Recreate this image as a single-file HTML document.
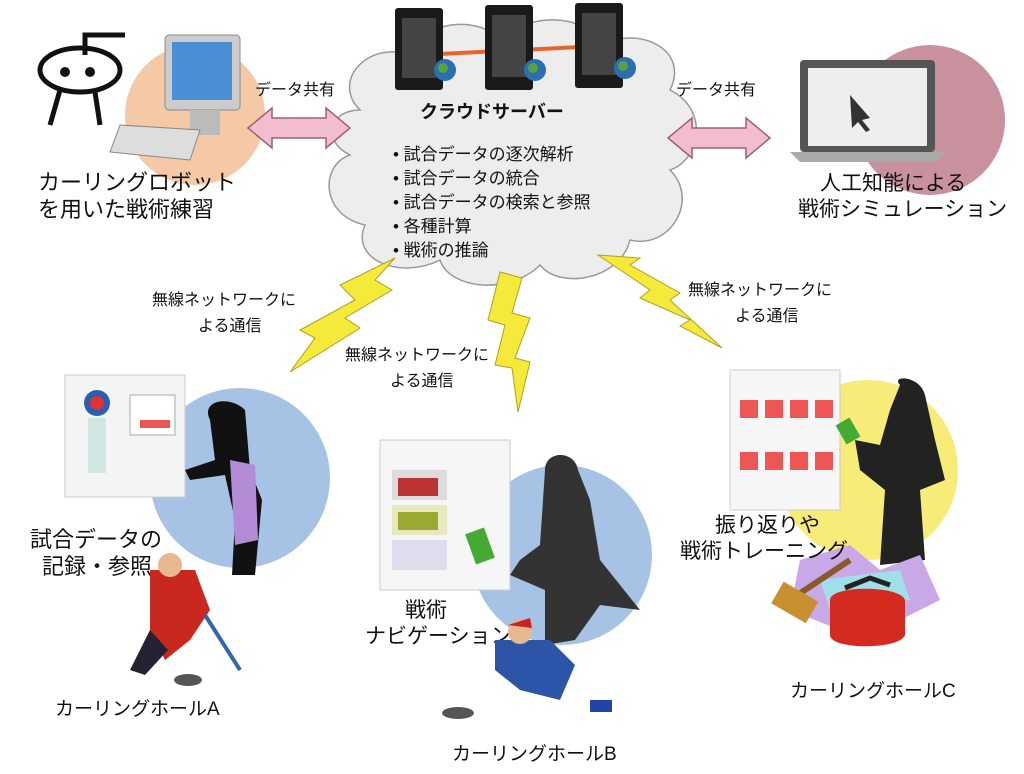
<!DOCTYPE html>
<html><head><meta charset="utf-8">
<style>
html,body{margin:0;padding:0;background:#fff;}
svg{display:block;}
text{font-family:"Liberation Sans","Noto Sans CJK JP",sans-serif;fill:#111;}
</style></head>
<body>
<svg width="1024" height="774" viewBox="0 0 1024 774" xmlns="http://www.w3.org/2000/svg">
<rect width="1024" height="774" fill="#fff"/>

<g fill="#ededed" stroke="#999" stroke-width="1.5">
<path d="M360,110 C330,80 370,40 410,55 C420,20 480,15 500,40 C530,10 590,15 600,45 C640,25 690,50 670,90 C710,110 700,160 670,170 C700,200 670,250 630,240 C620,280 560,290 540,265 C510,295 450,290 440,260 C400,280 350,260 365,225 C320,215 320,165 350,155 C320,140 330,110 360,110 Z"/>
</g>
<line x1="420" y1="55" x2="620" y2="45" stroke="#e8642a" stroke-width="4"/>
<g fill="#1a1a1a">
<rect x="395" y="8" width="48" height="82" rx="3"/>
<rect x="485" y="5" width="48" height="85" rx="3"/>
<rect x="575" y="3" width="48" height="85" rx="3"/>
</g>
<g fill="#444">
<rect x="402" y="18" width="34" height="60"/>
<rect x="492" y="15" width="34" height="62"/>
<rect x="582" y="13" width="34" height="62"/>
</g>
<circle cx="445" cy="70" r="11" fill="#2a6fb0"/><circle cx="535" cy="70" r="11" fill="#2a6fb0"/><circle cx="625" cy="68" r="11" fill="#2a6fb0"/>
<circle cx="443" cy="68" r="5" fill="#5aa040"/><circle cx="533" cy="68" r="5" fill="#5aa040"/><circle cx="623" cy="66" r="5" fill="#5aa040"/>

<text x="420" y="118" font-size="18" font-weight="bold">クラウドサーバー</text>
<g font-size="17">
<text x="393" y="160">•  試合データの逐次解析</text>
<text x="393" y="184">•  試合データの統合</text>
<text x="393" y="208">•  試合データの検索と参照</text>
<text x="393" y="232">•  各種計算</text>
<text x="393" y="256">•  戦術の推論</text>
</g>

<circle cx="195" cy="115" r="70" fill="#f5c9a6"/>
<g stroke="#111" stroke-width="5" fill="#fff">
<ellipse cx="80" cy="70" rx="40" ry="22"/>
<path d="M85,55 L85,35 L125,35" fill="none"/>
<path d="M60,90 L50,125 M95,92 L100,125" fill="none"/>
</g>
<circle cx="65" cy="72" r="5" fill="#111"/><circle cx="90" cy="72" r="5" fill="#111"/>
<rect x="165" y="35" width="75" height="75" rx="4" fill="#ccc" stroke="#888"/>
<rect x="172" y="42" width="60" height="58" fill="#4a8fd6"/>
<rect x="190" y="110" width="30" height="25" fill="#bbb"/>
<path d="M120,125 L200,130 L190,160 L110,152 Z" fill="#ddd" stroke="#888"/>
<text x="38" y="190" font-size="22">カーリングロボット</text>
<text x="38" y="217" font-size="22">を用いた戦術練習</text>

<g fill="#f2bdd0" stroke="#a06070" stroke-width="1.5">
<path d="M248,128 L272,108 L272,118 L326,118 L326,108 L350,128 L326,148 L326,138 L272,138 L272,148 Z"/>
<path d="M668,138 L692,118 L692,128 L746,128 L746,118 L770,138 L746,158 L746,148 L692,148 L692,158 Z"/>
</g>
<text x="255" y="95" font-size="16">データ共有</text>
<text x="676" y="95" font-size="16">データ共有</text>

<circle cx="930" cy="120" r="75" fill="#c9919d"/>
<rect x="800" y="60" width="135" height="92" rx="4" fill="#555"/>
<rect x="808" y="68" width="119" height="78" fill="#eee"/>
<path d="M790,152 L945,152 L935,162 L800,162 Z" fill="#aaa"/>
<path d="M850,95 L870,118 L862,120 L870,130 L866,132 L858,122 L852,128 Z" fill="#333"/>
<text x="820" y="190" font-size="21">人工知能による</text>
<text x="798" y="216" font-size="21">戦術シミュレーション</text>

<g fill="#f5e93a" stroke="#b0a020" stroke-width="1">
<path d="M395,258 L340,285 L355,300 L300,330 L315,338 L290,372 L360,328 L345,318 L392,290 L375,280 Z"/>
<path d="M500,272 L488,320 L505,325 L495,365 L512,368 L518,412 L530,362 L515,358 L530,318 L512,313 L522,278 Z"/>
<path d="M598,255 L650,290 L640,298 L690,320 L680,326 L722,348 L670,300 L680,293 L630,265 L640,258 Z"/>
</g>
<text x="152" y="305" font-size="16">無線ネットワークに</text>
<text x="198" y="331" font-size="16">よる通信</text>
<text x="345" y="360" font-size="16">無線ネットワークに</text>
<text x="390" y="386" font-size="16">よる通信</text>
<text x="688" y="295" font-size="16">無線ネットワークに</text>
<text x="735" y="321" font-size="16">よる通信</text>

<circle cx="240" cy="478" r="90" fill="#a6c2e4"/>
<rect x="65" y="375" width="120" height="122" fill="#f4f4f4" stroke="#ccc"/>
<circle cx="97" cy="403" r="13" fill="#2a5fb0"/><circle cx="97" cy="403" r="7" fill="#d33"/>
<rect x="88" y="418" width="18" height="55" fill="#cfe8e4"/>
<rect x="130" y="395" width="45" height="40" fill="#fff" stroke="#aaa"/>
<rect x="140" y="420" width="30" height="8" fill="#e55"/>
<path d="M210,420 C200,400 230,395 245,410 L250,470 L262,500 L255,575 L232,575 L235,520 L225,475 L190,480 L185,470 L215,460 Z" fill="#111"/>
<path d="M230,460 L255,465 L258,540 L235,545 Z" fill="#b48bd6"/>
<text x="30" y="547" font-size="22">試合データの</text>
<text x="42" y="574" font-size="22">記録・参照</text>
<path d="M150,570 L195,570 L210,610 L190,640 L165,660 L150,630 Z" fill="#c8281e"/>
<circle cx="170" cy="565" r="12" fill="#e8b890"/>
<path d="M150,630 L130,670 L145,675 L168,650 Z" fill="#223"/>
<line x1="205" y1="615" x2="240" y2="670" stroke="#3366aa" stroke-width="4"/>
<ellipse cx="188" cy="680" rx="14" ry="6" fill="#555"/>
<text x="55" y="715" font-size="19">カーリングホールA</text>

<circle cx="562" cy="555" r="90" fill="#a6c2e4"/>
<rect x="380" y="440" width="130" height="150" fill="#f6f6f6" stroke="#ccc"/>
<rect x="392" y="470" width="55" height="30" fill="#ddd"/>
<rect x="392" y="505" width="55" height="30" fill="#e8e8c0"/>
<rect x="392" y="540" width="55" height="30" fill="#dde"/>
<rect x="398" y="478" width="40" height="18" fill="#b33"/>
<rect x="398" y="512" width="40" height="18" fill="#9a3"/>
<path d="M545,470 C545,450 575,450 578,470 L590,500 L600,560 L640,610 L600,605 L575,640 L545,645 L545,590 L510,575 L520,560 L540,545 Z" fill="#333"/>
<rect x="470" y="530" width="20" height="32" fill="#4a3" transform="rotate(-20 480 546)"/>
<text x="405" y="617" font-size="21">戦術</text>
<text x="365" y="643" font-size="21">ナビゲーション</text>
<path d="M495,640 L550,640 L575,665 L560,700 L520,690 L495,670 Z" fill="#2c55a8"/>
<circle cx="520" cy="632" r="12" fill="#e8b890"/>
<path d="M508,625 L530,618 L532,628 Z" fill="#c22"/>
<ellipse cx="458" cy="713" rx="16" ry="6" fill="#555"/>
<rect x="590" y="700" width="22" height="12" fill="#2244aa"/>
<text x="452" y="760" font-size="19">カーリングホールB</text>

<circle cx="868" cy="470" r="90" fill="#f7ec78"/>
<rect x="730" y="370" width="110" height="140" fill="#f6f6f6" stroke="#ccc"/>
<g fill="#e55"><rect x="740" y="400" width="18" height="18"/><rect x="765" y="400" width="18" height="18"/><rect x="790" y="400" width="18" height="18"/><rect x="815" y="400" width="18" height="18"/><rect x="740" y="452" width="18" height="18"/><rect x="765" y="452" width="18" height="18"/><rect x="790" y="452" width="18" height="18"/><rect x="815" y="452" width="18" height="18"/></g>
<path d="M900,385 C890,375 920,375 925,395 L935,440 L945,480 L920,490 L925,560 L880,565 L885,490 L860,470 L855,440 L880,445 L890,410 Z" fill="#222"/>
<rect x="840" y="420" width="16" height="22" fill="#4a3" transform="rotate(-30 848 431)"/>
<path d="M800,560 L850,545 L880,570 L920,555 L940,600 L900,620 L840,630 L790,610 Z" fill="#c8a8e6"/>
<path d="M820,580 L900,570 L910,600 L830,610 Z" fill="#9fe0e8"/>
<line x1="790" y1="600" x2="850" y2="560" stroke="#8a5a2a" stroke-width="6"/>
<rect x="775" y="590" width="40" height="25" fill="#c89030" transform="rotate(30 795 602)"/>
<path d="M830,600 C830,585 900,585 905,600 L905,635 C900,650 830,650 830,635 Z" fill="#d42a20"/>
<path d="M845,588 L870,578 L890,585" fill="none" stroke="#222" stroke-width="5"/>
<text x="715" y="532" font-size="21">振り返りや</text>
<text x="680" y="558" font-size="21">戦術トレーニング</text>
<text x="790" y="697" font-size="19">カーリングホールC</text>
</svg>
</body></html>
